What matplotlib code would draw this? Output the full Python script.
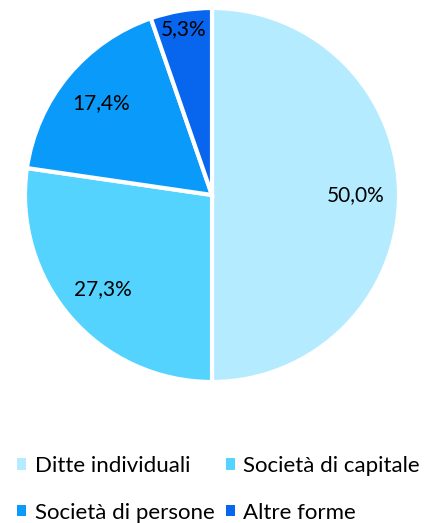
import matplotlib.pyplot as plt
from matplotlib.patches import Patch
import numpy as np

plt.rcParams['font.family'] = ['Lato', 'DejaVu Sans']

labels = ["Ditte individuali", "Società di capitale", "Società di persone", "Altre forme"]
values = [50.0, 27.3, 17.4, 5.3]
colors = ["#B5EBFF", "#55D3FF", "#0A9BFA", "#0866EE"]

fig = plt.figure(figsize=(4.28, 5.23), dpi=100)
ax = fig.add_axes([25 / 428, 141 / 523, 374 / 428, 374 / 523])

wedges, texts, autotexts = ax.pie(
    values, colors=colors, startangle=90, counterclock=False,
    autopct=lambda p: f"{p:.1f}%".replace(".", ","), pctdistance=0.77,
    wedgeprops=dict(edgecolor="white", linewidth=3), textprops=dict(fontsize=15),
)
# small slice label sits further out
th = np.deg2rad(90 + values[3] / 2 * 3.6)
autotexts[3].set_position((0.9 * np.cos(th), 0.9 * np.sin(th)))
ax.set_xlim(-1, 1)
ax.set_ylim(-1, 1)
ax.set_aspect("equal")

handles = [Patch(facecolor=c, edgecolor="none") for c in colors]
order = [0, 2, 1, 3]
fig.legend([handles[i] for i in order], [labels[i] for i in order],
           loc="upper left", bbox_to_anchor=(17 / 428, 1 - 456 / 523),
           ncol=2, frameon=False, fontsize=16, handlelength=0.4, handleheight=0.4,
           handletextpad=0.4, columnspacing=0.5, labelspacing=1.2,
           borderpad=0, borderaxespad=0)

fig.savefig("out.png", dpi=100)
